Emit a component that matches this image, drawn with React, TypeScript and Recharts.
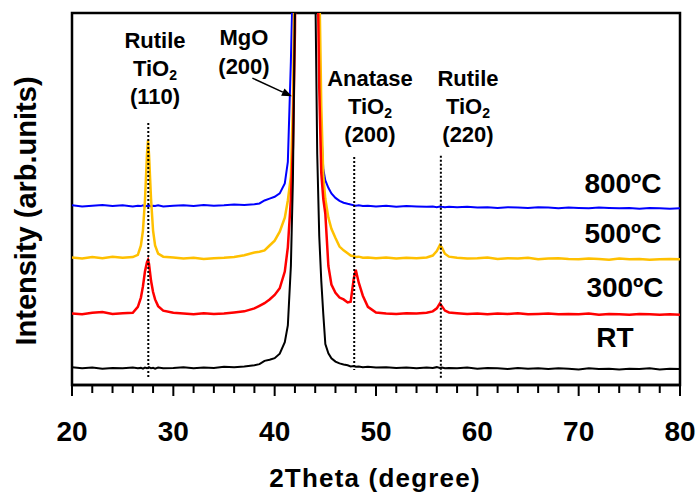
import { LineChart, Line, XAxis, YAxis, ReferenceLine, ReferenceArea } from "recharts";

// 2theta grid (denser around the peaks)
const THETA = [
  20, 21, 22, 23, 24, 25, 26,
  26.5, 26.8, 27.0, 27.2, 27.4, 27.5, 27.6, 27.8, 28.0, 28.2, 28.5,
  29, 30, 31, 32, 33, 34, 35, 36, 37, 38,
  38.5, 39, 39.5, 40, 40.5, 41, 41.3, 41.6, 41.8, 42.0, 42.2, 43.0, 43.8, 44.0, 44.2,
  44.4, 44.6, 44.8, 45.0, 45.3, 45.6, 46.0, 46.4, 46.8, 47.2, 47.5, 47.8, 48.0, 48.3, 48.7, 49.2,
  50, 51, 52, 53, 54, 55,
  55.6, 56.0, 56.3, 56.5, 56.8, 57.2,
  58, 59, 60, 61, 62, 63, 64, 65, 66, 67, 68, 69, 70, 71, 72, 73, 74, 75, 76, 77, 78, 79, 80,
];

const RT = [
  4.8, 4.5, 4.7, 4.4, 4.6, 4.5, 4.7,
  4.5, 4.6, 4.4, 4.7, 4.5, 4.6, 4.8, 4.5, 4.6, 4.4, 4.7,
  4.5, 4.6, 4.8, 4.5, 4.7, 4.6, 4.9, 4.8, 5.0, 5.3,
  5.6, 6.5, 6.8, 7.2, 8.4, 11.5, 16, 32, 55, 100, 200, 900, 300, 110, 62,
  40, 28, 19, 11, 8.5, 7.2, 6.3, 5.8, 5.5, 5.3, 5.0, 5.1, 4.9, 5.0, 4.8, 4.9,
  4.7, 4.8, 4.6, 4.7, 4.5, 4.7,
  4.6, 4.8, 4.6, 4.7, 4.5, 4.6,
  4.5, 4.7, 4.4, 4.6, 4.5, 4.3, 4.6, 4.4, 4.5, 4.3, 4.5, 4.4, 4.2, 4.5, 4.3, 4.4, 4.2, 4.4, 4.3, 4.5, 4.2, 4.4, 4.3,
];

const C300 = [
  19.2, 19.0, 19.4, 19.6, 19.1, 19.3, 19.4,
  21.0, 23.5, 26.5, 30.5, 33.0, 33.6, 32.5, 28.0, 25.0, 23.0, 21.2,
  20.0, 19.4, 19.2, 19.0, 19.3, 19.1, 19.2, 19.5, 19.8, 20.6,
  21.3, 22.0, 23.0, 24.2, 26.0, 30.5, 37, 50, 64, 95, 180, 900, 400, 200, 120,
  80, 57, 50, 46, 32, 27, 24.8, 23.5, 23.0, 22.2, 22.4, 28.5, 31.0, 27.5, 24.0, 21.0,
  19.5, 19.2, 19.1, 19.3, 19.2, 19.4,
  19.8, 20.6, 21.9, 21.2, 20.0, 19.5,
  19.3, 19.1, 19.2, 19.0, 19.2, 19.1, 19.3, 19.0, 19.1, 19.2, 19.0, 19.1, 19.0, 19.2, 18.9, 19.1, 19.0, 18.9, 19.1, 19.0, 18.9, 19.0, 18.9,
];

const C500 = [
  34.3, 34.0, 34.4, 34.1, 34.5, 34.2, 34.4,
  35.0, 37.5, 41.5, 49.6, 62, 65.8, 62, 50, 41.5, 37.5, 35.3,
  34.5, 34.3, 34.0, 34.2, 33.9, 34.1, 34.2, 34.4, 34.9, 35.6,
  35.8, 36.2, 37.5, 38.8, 41.2, 45.0, 49.6, 56, 75, 120, 250, 900, 500, 300, 180,
  110, 75, 56, 50, 45, 42, 39.5, 37.2, 36.2, 35.4, 34.8, 34.6, 34.4, 34.5, 34.2, 34.3,
  34.1, 34.3, 34.0, 34.2, 34.1, 34.3,
  34.8, 36.0, 37.6, 37.0, 35.3, 34.5,
  34.2, 34.0, 34.1, 34.3, 33.9, 34.1, 34.0, 34.2, 33.8, 34.0, 34.1, 33.9, 33.8, 34.0, 33.9, 33.7, 34.0, 33.8, 33.9, 33.7, 33.8, 33.9, 33.8,
];

const C800 = [
  48.3, 48.0, 48.2, 48.4, 48.1, 48.3, 48.0,
  48.2, 48.1, 48.3, 48.0, 48.2, 48.1, 48.3, 48.0, 48.2, 48.1, 48.3,
  48.0, 48.2, 48.3, 48.1, 48.4, 48.2, 48.3, 48.5, 48.4, 48.6,
  48.8, 49.6, 50.1, 50.6, 51.5, 54.2, 60, 87, 110, 200, 400, 900, 500, 300, 150,
  90, 68, 58, 55, 53, 51.5, 50.3, 49.5, 49.0, 48.7, 48.5, 48.3, 48.2, 48.3, 48.1, 48.2,
  48.0, 48.2, 47.9, 48.1, 48.0, 47.9,
  48.0, 47.8, 48.0, 47.9, 47.8, 47.9,
  47.8, 47.9, 47.7, 47.8, 47.6, 47.8, 47.7, 47.6, 47.8, 47.7, 47.5, 47.7, 47.6, 47.5, 47.7, 47.6, 47.5, 47.6, 47.4, 47.6, 47.5, 47.4, 47.5,
];

const X_TICKS = [20, 22, 24, 26, 28, 30, 32, 34, 36, 38, 40, 42, 44, 46, 48, 50, 52, 54, 56, 58, 60, 62, 64, 66, 68, 70, 72, 74, 76, 78, 80];

// dotted peak markers: position (2theta) and vertical extent (arb. units)
const MARKER_THETA = [27.53, 47.85, 56.4];
const MARKER_TOP = [70.4, 61.3, 61.6];
const MARKER_BOTTOM = [1.9, 4.0, 1.9];

// MgO (200) arrow, in data coords
const ARROW_FROM = { x: 37.8, y: 82.5 };
const ARROW_TO = { x: 41.7, y: 77.6 };

const data = THETA.map((t, i) => ({
  theta: t,
  rt: RT[i],
  c300: C300[i],
  c500: C500[i],
  c800: C800[i],
}));

const FONT = '"Liberation Sans", Arial, sans-serif';

function XTick(props: any) {
  const { x, y, payload } = props;
  const v = payload.value as number;
  const major = v % 10 === 0;
  return (
    <g>
      <line x1={x} y1={y} x2={x} y2={y + (major ? 11 : 8)} stroke="#000" strokeWidth={2} />
      {major && (
        <text x={x} y={y + 56} textAnchor="middle" fontSize={28} fontWeight="bold" fontFamily={FONT} fill="#000">
          {v}
        </text>
      )}
    </g>
  );
}

function ArrowShape(props: any) {
  const { x1, y1, x2, y2 } = props;
  const a = Math.atan2(y2 - y1, x2 - x1);
  const len = 10;
  const w = 4;
  const bx = x2 - len * Math.cos(a);
  const by = y2 - len * Math.sin(a);
  const pts = `${x2},${y2} ${bx - w * Math.sin(a)},${by + w * Math.cos(a)} ${bx + w * Math.sin(a)},${by - w * Math.cos(a)}`;
  return (
    <g>
      <line x1={x1} y1={y1} x2={bx} y2={by} stroke="#000" strokeWidth={1.5} />
      <polygon points={pts} fill="#000" />
    </g>
  );
}

function PeakLabel({ x, ys, top, label }: { x: number; ys: number[]; top: string; label: string }) {
  const mgo = top === "MgO";
  return (
    <g>
      <text x={x} y={ys[0]} textAnchor="middle">{top}</text>
      {!mgo && (
        <text x={x} y={ys[1]} textAnchor="middle">
          TiO<tspan fontSize={14} dy={4}>2</tspan>
        </text>
      )}
      <text x={x} y={ys[mgo ? 1 : 2]} textAnchor="middle">{label}</text>
    </g>
  );
}

export default function App() {
  return (
    <div style={{ position: "absolute", left: 0, top: 0, width: 696, height: 495, background: "#fff" }}>
      <LineChart width={696} height={495} data={data} margin={{ top: 13, right: 16, bottom: 0, left: 72 }}>
        <XAxis
          dataKey="theta"
          type="number"
          domain={[20, 80]}
          ticks={X_TICKS}
          interval={0}
          height={110}
          tickSize={0}
          tickMargin={0}
          tickLine={false}
          tick={<XTick />}
          axisLine={{ stroke: "#000", strokeWidth: 2.5 }}
          allowDataOverflow
        />
        <YAxis type="number" domain={[0, 100]} allowDataOverflow hide />

        <Line type="linear" dataKey="c800" stroke="#0000ff" strokeWidth={2} dot={false} isAnimationActive={false} />
        <Line type="linear" dataKey="c500" stroke="#ffc000" strokeWidth={2.5} dot={false} isAnimationActive={false} />
        <Line type="linear" dataKey="c300" stroke="#ff0000" strokeWidth={2.5} dot={false} isAnimationActive={false} />
        <Line type="linear" dataKey="rt" stroke="#000000" strokeWidth={2} dot={false} isAnimationActive={false} />

        {MARKER_THETA.map((t, i) => (
          <ReferenceLine
            key={t}
            segment={[{ x: t, y: MARKER_TOP[i] }, { x: t, y: MARKER_BOTTOM[i] }]}
            stroke="#000"
            strokeWidth={2}
            strokeDasharray="2 2"
          />
        ))}
        <ReferenceLine segment={[ARROW_FROM, ARROW_TO]} shape={ArrowShape} />
        {/* plot frame */}
        <ReferenceArea x1={20} x2={80} y1={0} y2={100} fill="none" fillOpacity={0} stroke="#000" strokeWidth={2.5} />
      </LineChart>

      {/* text annotations */}
      <svg
        width={696}
        height={495}
        style={{ position: "absolute", left: 0, top: 0, pointerEvents: "none" }}
        fontFamily={FONT}
        fontWeight="bold"
        fill="#000"
      >
        <g fontSize={22}>
          <PeakLabel x={155} ys={[48, 76, 104]} top="Rutile" label="(110)" />
          <PeakLabel x={244} ys={[45, 74]} top="MgO" label="(200)" />
          <PeakLabel x={370} ys={[86, 114, 142]} top="Anatase" label="(200)" />
          <PeakLabel x={468} ys={[86, 114, 142]} top="Rutile" label="(220)" />
        </g>
        <g fontSize={28} textAnchor="middle">
          <text x={623} y={193}>800ºC</text>
          <text x={623} y={243}>500ºC</text>
          <text x={625} y={297}>300ºC</text>
          <text x={615} y={347}>RT</text>
        </g>
        <text x={375} y={487} textAnchor="middle" fontSize={26} letterSpacing={1.2}>
          2Theta (degree)
        </text>
        <text x={36} y={211} textAnchor="middle" fontSize={29} transform="rotate(-90 36 211)">
          Intensity (arb.units)
        </text>
      </svg>
    </div>
  );
}
